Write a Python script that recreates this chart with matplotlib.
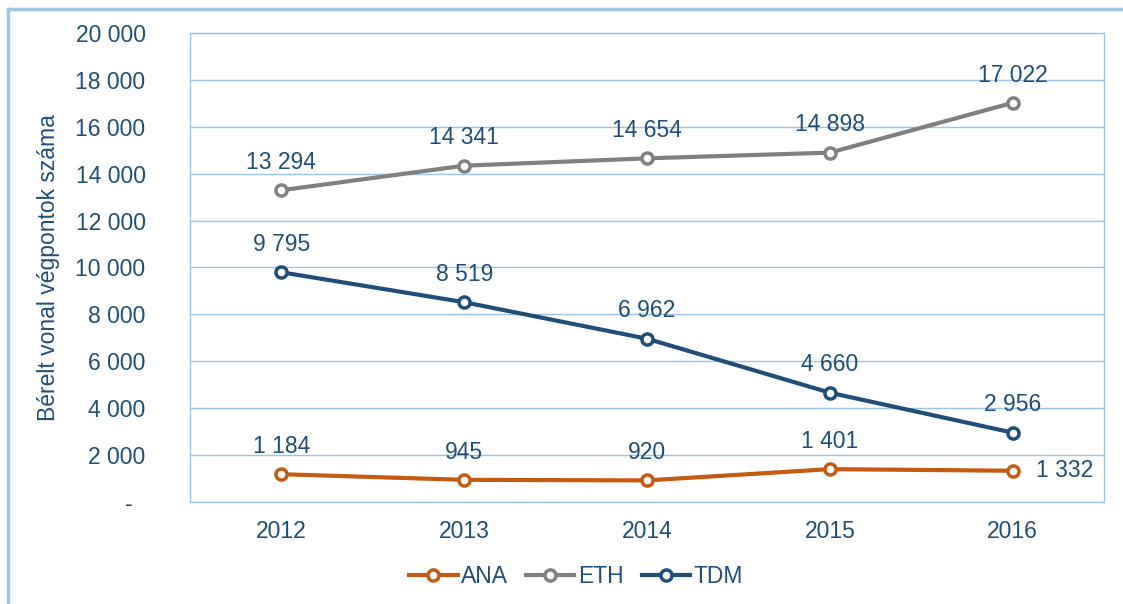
import matplotlib
matplotlib.use("Agg")
import matplotlib.pyplot as plt
from matplotlib.lines import Line2D
from matplotlib.ticker import FuncFormatter, MultipleLocator

plt.rcParams.update({
    "font.family": ["Liberation Sans", "DejaVu Sans"],
    "font.size": 16,
})

years = ["2012", "2013", "2014", "2015", "2016"]
ana = [1184, 945, 920, 1401, 1332]
eth = [13294, 14341, 14654, 14898, 17022]
tdm = [9795, 8519, 6962, 4660, 2956]

TEXT = "#1F4E79"
GRID = "#9DC3E6"
COLORS = {"ANA": "#C55A11", "ETH": "#808080", "TDM": "#1F4E79"}
FS = 16.5


def fmt(v, pos=None):
    if v == 0:
        return "-  "
    return f"{int(round(v)):,}".replace(",", " ")


fig = plt.figure(figsize=(11.23, 6.04), dpi=100)
ax = fig.add_axes([0.1692, 0.1689, 0.8140, 0.7765])

x = list(range(len(years)))
for name, vals in [("ANA", ana), ("ETH", eth), ("TDM", tdm)]:
    ax.plot(x, vals, color=COLORS[name], lw=3, marker="o", ms=8,
            mfc="white", mec=COLORS[name], mew=2.5, zorder=3, label=name)
    for i, v in enumerate(vals):
        if name == "ANA" and i == len(vals) - 1:
            ax.annotate(fmt(v), (i, v), xytext=(17, 0), textcoords="offset points",
                        ha="left", va="center", fontsize=FS, color=TEXT)
        else:
            ax.annotate(fmt(v), (i, v), xytext=(0, 20), textcoords="offset points",
                        ha="center", va="center", fontsize=FS, color=TEXT)

ax.set_xlim(-0.5, len(years) - 0.5)
ax.set_ylim(0, 20000)
ax.set_xticks(x)
ax.set_xticklabels(years)
ax.yaxis.set_major_locator(MultipleLocator(2000))
ax.yaxis.set_major_formatter(FuncFormatter(fmt))
ax.tick_params(axis="both", length=0, labelsize=FS, labelcolor=TEXT)
ax.tick_params(axis="y", pad=32)
ax.tick_params(axis="x", pad=13)
ax.grid(axis="y", color=GRID, lw=1)
ax.set_axisbelow(True)
for s in ax.spines.values():
    s.set_color(GRID)
    s.set_linewidth(1)

ax.set_ylabel("Bérelt vonal végpontok száma", fontsize=FS, color=TEXT)
ax.yaxis.set_label_coords(-0.142, 0.5)

handles = [Line2D([], [], color=COLORS[n], lw=3, marker="o", ms=8, mfc="white",
                  mec=COLORS[n], mew=2.5) for n in ["ANA", "ETH", "TDM"]]
leg = fig.legend(handles, ["ANA", "ETH", "TDM"], loc="center", ncol=3,
                 bbox_to_anchor=(0.513, 0.045), frameon=False, fontsize=FS,
                 handlelength=2.1, handletextpad=0.15, columnspacing=0.8)
for t in leg.get_texts():
    t.set_color(TEXT)

# outer frame (left and top edges visible)
fig.add_artist(Line2D([0.0075, 0.0075], [0, 0.985], transform=fig.transFigure,
                      color=GRID, lw=2.5))
fig.add_artist(Line2D([0.0075, 1.0], [0.985, 0.985], transform=fig.transFigure,
                      color=GRID, lw=2.5))

fig.savefig("out.png", dpi=100)
